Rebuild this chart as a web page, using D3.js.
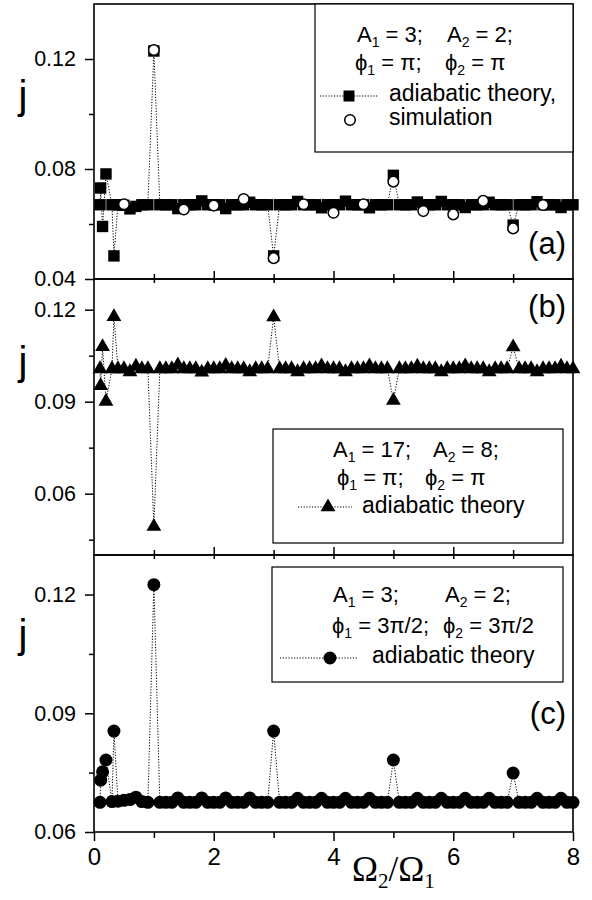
<!DOCTYPE html>
<html>
<head>
<meta charset="utf-8">
<script src="https://cdn.jsdelivr.net/npm/d3@7"></script>
<style>
  body { margin: 0; background: #fff; }
  svg { display: block; font-family: "Liberation Sans", Arial, sans-serif; }
  text { white-space: pre; }
</style>
</head>
<body>
<svg id="chart" width="592" height="900"></svg>
<script>
// x grid, Omega2/Omega1 (shared by the three adiabatic series)
var ratio = [
  0.1, 0.111, 0.143, 0.2, 0.3, 0.333, 0.4, 0.5, 0.6, 0.7,
  0.8, 0.9, 1.0, 1.1, 1.2, 1.3, 1.4, 1.5, 1.6, 1.7,
  1.8, 1.9, 2.0, 2.1, 2.2, 2.3, 2.4, 2.5, 2.6, 2.7,
  2.8, 2.9, 3.0, 3.1, 3.2, 3.3, 3.4, 3.5, 3.6, 3.7,
  3.8, 3.9, 4.0, 4.1, 4.2, 4.3, 4.4, 4.5, 4.6, 4.7,
  4.8, 4.9, 5.0, 5.1, 5.2, 5.3, 5.4, 5.5, 5.6, 5.7,
  5.8, 5.9, 6.0, 6.1, 6.2, 6.3, 6.4, 6.5, 6.6, 6.7,
  6.8, 6.9, 7.0, 7.1, 7.2, 7.3, 7.4, 7.5, 7.6, 7.7,
  7.8, 7.9, 8.0
];

// (a) A1=3, A2=2, phi1=phi2=pi : adiabatic theory
var jA = [
  0.0670, 0.0731, 0.0591, 0.0782, 0.0670, 0.0484, 0.0670, 0.0668, 0.0655, 0.0664,
  0.0670, 0.0670, 0.1229, 0.0670, 0.0670, 0.0670, 0.0656, 0.0670, 0.0670, 0.0670,
  0.0684, 0.0670, 0.0670, 0.0670, 0.0656, 0.0670, 0.0670, 0.0670, 0.0679, 0.0670,
  0.0670, 0.0670, 0.0484, 0.0670, 0.0670, 0.0670, 0.0682, 0.0670, 0.0670, 0.0670,
  0.0659, 0.0670, 0.0670, 0.0670, 0.0683, 0.0670, 0.0670, 0.0670, 0.0659, 0.0670,
  0.0670, 0.0670, 0.0777, 0.0670, 0.0670, 0.0670, 0.0680, 0.0670, 0.0670, 0.0670,
  0.0682, 0.0670, 0.0670, 0.0670, 0.0660, 0.0670, 0.0670, 0.0670, 0.0679, 0.0670,
  0.0670, 0.0670, 0.0596, 0.0670, 0.0670, 0.0670, 0.0681, 0.0670, 0.0670, 0.0670,
  0.0660, 0.0670, 0.0670
];

// (a) simulation
var ratioSim = [0.5, 1.0, 1.5, 2.0, 2.5, 3.0, 3.5, 4.0, 4.5, 5.0, 5.5, 6.0, 6.5, 7.0, 7.5];
var jSim = [0.0672, 0.1233, 0.0653, 0.0667, 0.0691, 0.0476, 0.0672, 0.0641, 0.0672, 0.0754,
            0.0647, 0.0635, 0.0684, 0.0584, 0.0669];

// (b) A1=17, A2=8, phi1=phi2=pi : adiabatic theory
var jB = [
  0.1007, 0.0952, 0.1079, 0.0901, 0.1007, 0.1177, 0.1007, 0.1007, 0.0997, 0.1015,
  0.1007, 0.1007, 0.0493, 0.1007, 0.1007, 0.1007, 0.1019, 0.1007, 0.1007, 0.1007,
  0.0996, 0.1007, 0.1007, 0.1007, 0.1018, 0.1007, 0.1007, 0.1007, 0.0997, 0.1007,
  0.1007, 0.1007, 0.1176, 0.1007, 0.1007, 0.1007, 0.0997, 0.1007, 0.1007, 0.1007,
  0.1016, 0.1007, 0.1007, 0.1007, 0.0997, 0.1007, 0.1007, 0.1007, 0.1016, 0.1007,
  0.1007, 0.1007, 0.0904, 0.1007, 0.1007, 0.1007, 0.1015, 0.1007, 0.1007, 0.1007,
  0.0997, 0.1007, 0.1007, 0.1007, 0.1016, 0.1007, 0.1007, 0.1007, 0.0997, 0.1007,
  0.1007, 0.1007, 0.1078, 0.1007, 0.1007, 0.1007, 0.0997, 0.1007, 0.1007, 0.1007,
  0.1015, 0.1007, 0.1007
];

// (c) A1=3, A2=2, phi1=phi2=3pi/2 : adiabatic theory
var jC = [
  0.0675, 0.0731, 0.0752, 0.0782, 0.0677, 0.0855, 0.0678, 0.0680, 0.0682, 0.0688,
  0.0677, 0.0675, 0.1225, 0.0675, 0.0675, 0.0675, 0.0686, 0.0675, 0.0675, 0.0675,
  0.0686, 0.0675, 0.0675, 0.0675, 0.0686, 0.0675, 0.0675, 0.0675, 0.0686, 0.0675,
  0.0675, 0.0675, 0.0855, 0.0675, 0.0675, 0.0675, 0.0685, 0.0675, 0.0675, 0.0675,
  0.0685, 0.0675, 0.0675, 0.0675, 0.0685, 0.0675, 0.0675, 0.0675, 0.0685, 0.0675,
  0.0675, 0.0675, 0.0782, 0.0675, 0.0675, 0.0675, 0.0685, 0.0675, 0.0675, 0.0675,
  0.0685, 0.0675, 0.0675, 0.0675, 0.0685, 0.0675, 0.0675, 0.0675, 0.0685, 0.0675,
  0.0675, 0.0675, 0.0749, 0.0675, 0.0675, 0.0675, 0.0685, 0.0675, 0.0675, 0.0675,
  0.0685, 0.0675, 0.0675
];

var xMajor = [0, 2, 4, 6, 8], xMinor = [1, 3, 5, 7];

var svg = d3.select('#chart');
var left = 94, right = 573;
var x = d3.scaleLinear().domain([0, 8]).range([left, right]);

var panels = [
  { key: 'a', top: 4, bottom: 279, domain: [0.04, 0.14], major: [0.04, 0.08, 0.12], minor: [0.06, 0.10], jY: 109 },
  { key: 'b', top: 279, bottom: 555, domain: [0.04, 0.13], major: [0.06, 0.09, 0.12], minor: [0.045, 0.075, 0.105], jY: 375 },
  { key: 'c', top: 555, bottom: 832, domain: [0.06, 0.13], major: [0.06, 0.09, 0.12], minor: [0.075, 0.105], jY: 648 }
];
panels.forEach(function(p) {
  p.y = d3.scaleLinear().domain(p.domain).range([p.bottom, p.top]);
});

var dotted = '1.2,1.6';

//
// axes
panels.forEach(function(p, i) {
  var g = svg.append('g').attr('class', 'axis-' + p.key);

  g.append('g').attr('transform', 'translate(' + left + ',0)')
    .call(d3.axisLeft(p.y).tickValues(p.major).tickSize(9).tickPadding(9).tickFormat(d3.format('.2f')))
    .call(function(s) { s.select('.domain').remove(); s.selectAll('text').attr('font-size', 21.5).attr('fill', '#000').attr('font-family', null); });
  g.append('g').attr('transform', 'translate(' + left + ',0)')
    .call(d3.axisLeft(p.y).tickValues(p.minor).tickSize(5).tickFormat(''))
    .call(function(s) { s.select('.domain').remove(); });

  if (i < 2) {
    // shared border between panels: ticks poke mostly upward
    g.append('g').attr('transform', 'translate(0,' + p.bottom + ')')
      .call(d3.axisTop(x).tickValues(xMajor.slice(1, 4)).tickSize(8).tickFormat(''))
      .call(function(s) { s.select('.domain').remove(); });
    g.append('g').attr('transform', 'translate(0,' + p.bottom + ')')
      .call(d3.axisTop(x).tickValues(xMinor).tickSize(5).tickFormat(''))
      .call(function(s) { s.select('.domain').remove(); });
    g.append('g').attr('transform', 'translate(0,' + p.bottom + ')')
      .call(d3.axisBottom(x).tickValues(xMajor.slice(1, 4).concat(xMinor)).tickSize(4).tickFormat(''))
      .call(function(s) { s.select('.domain').remove(); });
  } else {
    g.append('g').attr('transform', 'translate(0,' + p.bottom + ')')
      .call(d3.axisBottom(x).tickValues(xMajor).tickSize(9).tickPadding(7).tickFormat(d3.format('d')))
      .call(function(s) { s.select('.domain').remove(); s.selectAll('text').attr('font-size', 24).attr('fill', '#000').attr('font-family', null); });
    g.append('g').attr('transform', 'translate(0,' + p.bottom + ')')
      .call(d3.axisBottom(x).tickValues(xMinor).tickSize(6).tickFormat(''))
      .call(function(s) { s.select('.domain').remove(); });
  }
  g.selectAll('line').attr('stroke', '#000').attr('stroke-width', 1.5);

  // frame
  svg.append('rect')
    .attr('x', left).attr('y', p.top)
    .attr('width', right - left).attr('height', p.bottom - p.top)
    .attr('fill', 'none').attr('stroke', '#000').attr('stroke-width', 1.6);

  svg.append('text')
    .attr('x', 23).attr('y', p.jY)
    .attr('text-anchor', 'middle').attr('font-size', 40)
    .text('j');
});

//
// series
var pa = panels[0], pb = panels[1], pc = panels[2];

function dottedLine(p, ys) {
  var line = d3.line().x(function(d) { return x(d); }).y(function(d, i) { return p.y(ys[i]); });
  svg.append('path').datum(ratio)
    .attr('d', line)
    .attr('fill', 'none').attr('stroke', '#000')
    .attr('stroke-width', 1).attr('stroke-dasharray', dotted);
}

dottedLine(pa, jA);
svg.append('g').selectAll('rect').data(ratio).enter().append('rect')
  .attr('x', function(d) { return x(d) - 5.7; })
  .attr('y', function(d, i) { return pa.y(jA[i]) - 5.7; })
  .attr('width', 11.4).attr('height', 11.4).attr('fill', '#000');
svg.append('g').selectAll('circle').data(ratioSim).enter().append('circle')
  .attr('cx', function(d) { return x(d); })
  .attr('cy', function(d, i) { return pa.y(jSim[i]); })
  .attr('r', 5.3).attr('fill', '#fff').attr('stroke', '#000').attr('stroke-width', 1.5);

dottedLine(pb, jB);
var tri = d3.symbol().type(d3.symbolTriangle).size(95);
svg.append('g').selectAll('path').data(ratio).enter().append('path')
  .attr('d', tri)
  .attr('transform', function(d, i) { return 'translate(' + x(d) + ',' + pb.y(jB[i]) + ')'; })
  .attr('fill', '#000');

dottedLine(pc, jC);
svg.append('g').selectAll('circle').data(ratio).enter().append('circle')
  .attr('cx', function(d) { return x(d); })
  .attr('cy', function(d, i) { return pc.y(jC[i]); })
  .attr('r', 6.5).attr('fill', '#000');

//
// legends
function subText(x0, y0, base, sub, rest, size) {
  var t = svg.append('text').attr('x', x0).attr('y', y0).attr('font-size', size || 22);
  t.append('tspan').text(base);
  t.append('tspan').attr('font-size', 14).attr('dy', 5).text(sub);
  t.append('tspan').attr('dy', -5).text(rest);
  return t;
}
function box(x0, y0, x1, y1) {
  svg.append('rect').attr('x', x0).attr('y', y0).attr('width', x1 - x0).attr('height', y1 - y0)
    .attr('fill', '#fff').attr('stroke', '#000').attr('stroke-width', 1.2);
}
function sampleLine(x0, x1, y0) {
  svg.append('line').attr('x1', x0).attr('x2', x1).attr('y1', y0).attr('y2', y0)
    .attr('stroke', '#000').attr('stroke-width', 1).attr('stroke-dasharray', dotted);
}

// (a)
box(315, 4, 573, 152);
subText(357, 42, 'A', '1', ' = 3;');
subText(447, 42, 'A', '2', ' = 2;');
subText(355, 70, '\u03d5', '1', ' = \u03c0;');
subText(445, 70, '\u03d5', '2', ' = \u03c0');
sampleLine(320, 378, 96);
svg.append('rect').attr('x', 349 - 5.5).attr('y', 96 - 5.5).attr('width', 11).attr('height', 11).attr('fill', '#000');
svg.append('text').attr('x', 389).attr('y', 101).attr('font-size', 23).text('adiabatic theory,');
svg.append('circle').attr('cx', 350).attr('cy', 120).attr('r', 5.3)
  .attr('fill', '#fff').attr('stroke', '#000').attr('stroke-width', 1.5);
svg.append('text').attr('x', 389).attr('y', 125).attr('font-size', 23).text('simulation');

// (b)
box(273, 429, 563, 543);
subText(333, 457, 'A', '1', ' = 17;');
subText(433, 457, 'A', '2', ' = 8;');
subText(337, 485, '\u03d5', '1', ' = \u03c0;');
subText(425, 485, '\u03d5', '2', ' = \u03c0');
sampleLine(298, 352, 507);
svg.append('path').attr('d', tri).attr('transform', 'translate(328,507)').attr('fill', '#000');
svg.append('text').attr('x', 362).attr('y', 513).attr('font-size', 23).text('adiabatic theory');

// (c)
box(272, 567, 563, 682);
subText(333, 602, 'A', '1', ' = 3;');
subText(445, 602, 'A', '2', ' = 2;');
subText(332, 633, '\u03d5', '1', ' = 3\u03c0/2;');
subText(443, 633, '\u03d5', '2', ' = 3\u03c0/2');
sampleLine(280, 358, 658);
svg.append('circle').attr('cx', 330).attr('cy', 658).attr('r', 6.5).attr('fill', '#000');
svg.append('text').attr('x', 372).attr('y', 663).attr('font-size', 23).text('adiabatic theory');

// panel tags
[['(a)', 254], ['(b)', 317], ['(c)', 724]].forEach(function(t) {
  svg.append('text').attr('x', 566).attr('y', t[1]).attr('text-anchor', 'end')
    .attr('font-size', 31).text(t[0]);
});

// x title
var xt = svg.append('text').attr('x', 352).attr('y', 881)
  .attr('font-family', '"Liberation Serif", "Times New Roman", serif').attr('font-size', 35);
xt.append('tspan').text('\u03a9');
xt.append('tspan').attr('font-size', 21).attr('dy', 7).text('2');
xt.append('tspan').attr('dy', -7).text('/\u03a9');
xt.append('tspan').attr('font-size', 21).attr('dy', 7).text('1');
</script>
</body>
</html>
